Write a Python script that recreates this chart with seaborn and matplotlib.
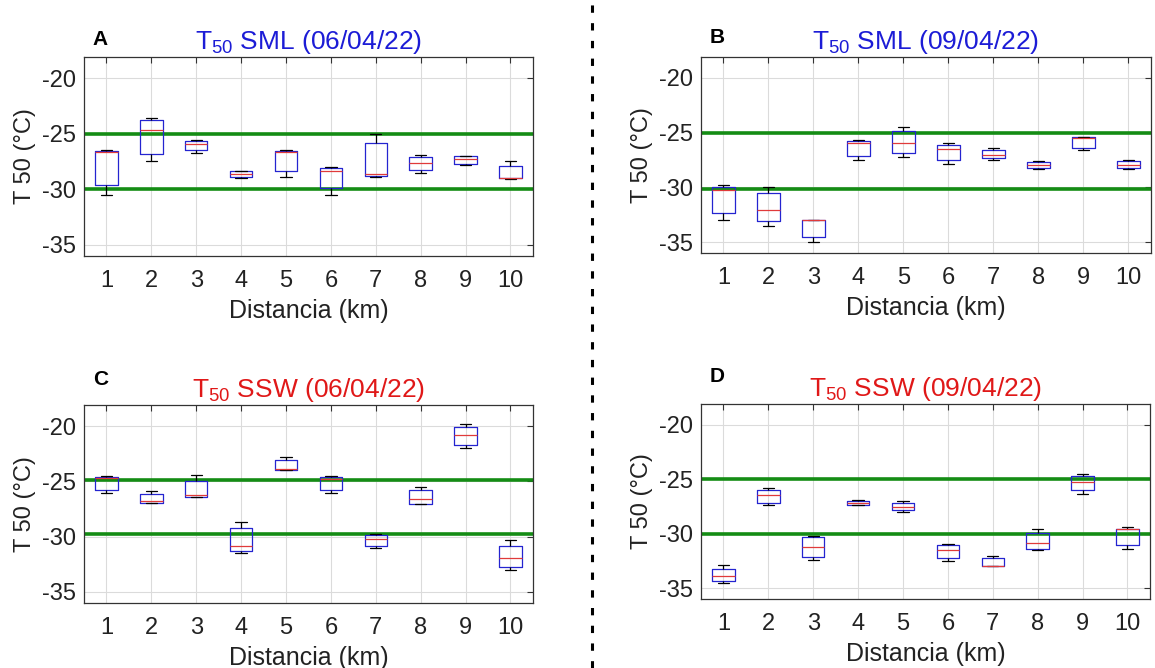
import numpy as np
import pandas as pd
import matplotlib
matplotlib.use("Agg")
import matplotlib.pyplot as plt
from matplotlib.lines import Line2D
import seaborn as sns

# five-number summaries: (min, q1, median, q3, max) per km
km = ["1", "2", "3", "4", "5", "6", "7", "8", "9", "10"]

sml_0604 = [
    (-30.55, -29.65, -26.65, -26.55, -26.5),
    (-27.5, -26.8, -24.7, -23.8, -23.55),
    (-26.7, -26.5, -25.95, -25.7, -25.6),
    (-29.0, -28.9, -28.6, -28.4, -28.4),
    (-28.9, -28.4, -26.65, -26.55, -26.5),
    (-30.5, -29.9, -28.35, -28.05, -28.0),
    (-28.9, -28.85, -28.6, -25.85, -25.0),
    (-28.55, -28.3, -27.6, -27.07, -26.9),
    (-27.85, -27.75, -27.25, -27.05, -27.0),
    (-29.05, -29.0, -28.95, -27.9, -27.5),
]
sml_0904 = [
    (-33.0, -32.38, -30.29, -29.96, -29.81),
    (-33.5, -33.1, -32.07, -30.56, -29.99),
    (-35.0, -34.52, -33.0, -32.95, -32.95),
    (-27.5, -27.15, -26.0, -25.8, -25.67),
    (-27.27, -26.85, -26.0, -24.9, -24.5),
    (-27.85, -27.55, -26.5, -26.1, -26.0),
    (-27.55, -27.36, -27.06, -26.58, -26.4),
    (-28.3, -28.2, -27.94, -27.73, -27.64),
    (-26.64, -26.37, -25.47, -25.45, -25.45),
    (-28.3, -28.2, -27.94, -27.6, -27.55),
]
ssw_0604 = [
    (-26.08, -25.78, -24.7, -24.65, -24.56),
    (-27.0, -26.94, -26.81, -26.15, -25.87),
    (-26.45, -26.45, -26.27, -24.93, -24.44),
    (-31.47, -31.32, -30.89, -29.22, -28.64),
    (-23.99, -23.99, -23.9, -23.1, -22.83),
    (-26.08, -25.78, -24.75, -24.65, -24.56),
    (-31.01, -30.83, -30.22, -29.85, -29.8),
    (-27.09, -27.03, -26.6, -25.75, -25.48),
    (-21.95, -21.7, -20.82, -20.09, -19.85),
    (-33.02, -32.75, -31.96, -30.83, -30.34),
]
ssw_0904 = [
    (-34.54, -34.36, -33.87, -33.22, -32.89),
    (-27.38, -27.19, -26.49, -26.0, -25.85),
    (-32.46, -32.12, -31.2, -30.28, -30.19),
    (-27.41, -27.35, -27.19, -26.98, -26.89),
    (-28.02, -27.84, -27.59, -27.19, -26.98),
    (-32.55, -32.27, -31.48, -31.08, -30.93),
    (-33.0, -33.0, -32.97, -32.27, -32.06),
    (-31.48, -31.42, -30.9, -29.98, -29.58),
    (-26.34, -26.03, -25.23, -24.68, -24.5),
    (-31.42, -31.08, -29.6, -29.58, -29.37),
]

# green reference lines per panel
ref_lines = [(-25.0, -30.0), (-25.0, -30.15), (-24.9, -29.8), (-24.95, -30.05)]

titles = ["T$_{\\mathregular{50}}$ SML (06/04/22)", "T$_{\\mathregular{50}}$ SML (09/04/22)",
          "T$_{\\mathregular{50}}$ SSW (06/04/22)", "T$_{\\mathregular{50}}$ SSW (09/04/22)"]
title_colors = ["#1c1cd6", "#1c1cd6", "#e01818", "#e01818"]
letters = ["A", "B", "C", "D"]
panels = [sml_0604, sml_0904, ssw_0604, ssw_0904]

sns.set_theme(style="white")
plt.rcParams["font.family"] = ["Liberation Sans", "DejaVu Sans"]
plt.rcParams["mathtext.fontset"] = "custom"
plt.rcParams["mathtext.rm"] = "Liberation Sans"

fig = plt.figure(figsize=(11.55, 6.68), dpi=100)

# axes rectangles in figure fraction (left, bottom, width, height)
rects = [[0.0727, 0.6168, 0.3887, 0.2979],
         [0.6069, 0.6213, 0.3896, 0.2934],
         [0.0727, 0.0973, 0.3887, 0.2964],
         [0.6069, 0.1033, 0.3887, 0.2919]]
letter_y = [1.04, 1.05, 1.08, 1.09]

for i, summ in enumerate(panels):
    ax = fig.add_axes(rects[i])
    rows = []
    for k, vals in zip(km, summ):
        for v in vals:
            rows.append({"km": k, "t50": v})
    df = pd.DataFrame(rows)

    for yl in ref_lines[i]:
        ax.axhline(yl, color="#148c14", linewidth=2.6, zorder=1.5)

    sns.boxplot(data=df, x="km", y="t50", order=km, ax=ax, fill=False, width=0.5,
                whis=np.inf, showfliers=False, color="#2424d0", linewidth=0.9,
                medianprops=dict(color="#e03a3a", linewidth=0.9),
                whiskerprops=dict(color="black", linewidth=0.9),
                capprops=dict(color="black", linewidth=0.9))

    # seaborn switches the categorical grid off, so set it afterwards
    ax.set_axisbelow(True)
    ax.grid(True, axis="both", color="0.86", linewidth=0.8)

    ax.set_ylim(-36, -18.1)
    ax.set_xlim(-0.5, 9.5)
    ax.set_yticks([-35, -30, -25, -20])
    ax.set_yticklabels(["-35", "-30", "-25", "-20"])
    ax.tick_params(direction="in", top=True, right=True, length=4, width=0.8,
                   color="0.2", labelsize=17, labelcolor="#222222")
    ax.tick_params(axis="x", pad=10)
    ax.tick_params(axis="y", pad=6)
    for sp in ax.spines.values():
        sp.set_color("0.2")
        sp.set_linewidth(0.9)
    ax.set_xlabel("Distancia (km)", fontsize=18, color="#222222", labelpad=5)
    ax.set_ylabel("T 50 (°C)", fontsize=17, color="#222222", labelpad=4)
    ax.set_title(titles[i], color=title_colors[i], fontsize=19, pad=6)
    ax.text(0.02, letter_y[i], letters[i], transform=ax.transAxes, ha="left",
            va="bottom", fontsize=15, fontweight="bold", color="black")

# dashed separator between left and right columns
fig.add_artist(Line2D([0.5125, 0.5125], [0.0, 1.0], transform=fig.transFigure,
                      color="black", linewidth=2.2, linestyle=(0, (2.4, 3.4))))

fig.savefig("out.png", dpi=100)
